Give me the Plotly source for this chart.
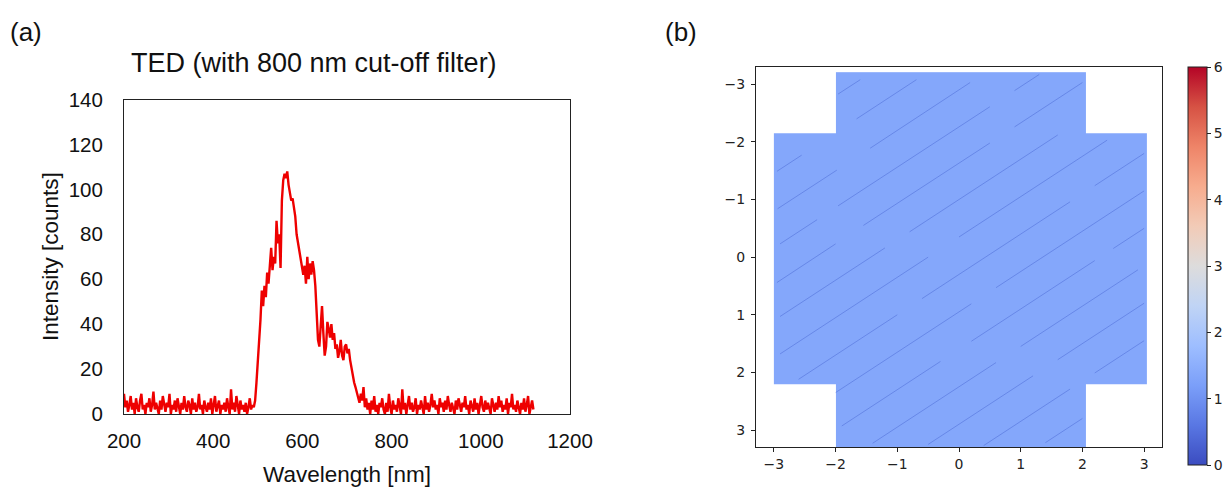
import plotly.graph_objects as go

W, H = 1229, 487

# ---------------- Panel (a): spectrum data ----------------
wl_start, wl_step = 200, 3
intensity = [
    # 200-488 nm baseline
    9,3,6,1,4,8,2,5,0,7,3,1,6,9,2,4,0,5,3,7,1,4,10,2,5,3,0,6,2,8,
    4,1,5,3,9,0,4,2,6,1,7,3,0,5,2,8,3,1,6,4,
    0,7,2,5,1,3,9,2,4,0,6,3,1,5,2,7,0,4,8,1,
    3,6,0,4,2,5,1,7,3,0,11,2,5,1,8,3,0,6,2,4,
    1,5,0,3,7,2,4,
    # 491-749 nm emission band
    3,6,14,22,30,42,55,48,57,52,63,58,66,74,64,70,67,86,76,80,
    65,95,104,107,105,108,102,99,95,96,91,88,80,76,72,68,65,62,66,58,
    70,60,67,62,68,64,57,46,33,30,38,48,36,26,30,41,38,34,40,33,
    36,29,31,25,28,33,26,24,30,31,27,29,24,20,17,14,12,10,8,5,
    9,6,12,3,7,2,5,
    # 752-1118 nm baseline
    0,6,2,8,1,4,0,5,3,7,
    2,0,5,1,9,3,0,6,2,4,
    1,7,3,0,11,2,5,0,4,8,
    2,5,1,3,7,0,4,2,6,3,
    0,8,2,5,1,4,9,3,6,2,
    4,0,7,3,5,1,6,2,8,4,
    1,5,3,0,6,2,7,4,1,5,
    3,8,2,4,0,6,3,1,7,2,
    5,0,4,8,3,1,6,2,5,3,
    0,7,4,1,5,2,8,3,6,1,
    4,2,7,0,5,3,9,2,4,1,
    6,3,0,5,2,7,1,4,8,0,
    3,6,2,
]
wavelength = [wl_start + wl_step * i for i in range(len(intensity))]
x_ticks_a = [200, 400, 600, 800, 1000, 1200]
y_ticks_a = [0, 20, 40, 60, 80, 100, 120, 140]

# ---------------- Panel (b): map data ----------------
cross_x_edges = [-3.0, -2.0, 2.05, 3.05]
cross_y_edges = [-3.21, -2.16, 2.21, 3.30]
cross_z = [
    [None, 1.35, None],
    [1.35, 1.35, 1.35],
    [None, 1.35, None],
]
# faint streak segments (x0, y0, x1, y1)
seg_x0 = [-1.96, -2.95, -1.66, -2.94, -1.44, -2.90, -1.96, 0.90, -2.95, -1.55, 0.90,
          -2.90, -0.80, -2.90, 0.00, -2.60, -0.60, 2.20, -2.00, 0.60, -1.90, 0.20, 2.50,
          -1.40, 1.00, -0.50, 1.60, 0.40, 2.20, 1.40]
seg_y0 = [-2.83, -1.49, -2.40, -0.84, -1.89, -0.23, -0.89, -2.89, 0.44, -0.55, -2.26,
          1.03, -0.44, 1.68, -0.35, 2.12, 0.72, -1.24, 2.35, 0.53, 2.93, 1.46, -0.15,
          3.23, 1.55, 3.25, 1.78, 3.27, 2.01, 3.22]
seg_x1 = [-1.60, -2.55, -0.69, -1.98, 0.18, -2.30, 0.50, 1.30, -2.00, 0.50, 2.00,
          -1.20, 1.60, -0.50, 2.40, -1.00, 1.80, 3.00, 0.20, 3.00, -0.30, 2.20, 3.00,
          0.60, 2.90, 1.20, 3.00, 1.80, 3.00, 2.00]
seg_y1 = [-3.08, -1.77, -3.08, -1.51, -3.03, -0.65, -2.61, -3.17, -0.23, -1.98, -3.03,
          -0.16, -2.12, 0.00, -2.03, 1.00, -0.96, -1.80, 0.81, -1.15, 1.81, 0.06, -0.50,
          1.83, 0.22, 2.06, 0.80, 2.29, 1.45, 2.80]
ticks_b = [-3, -2, -1, 0, 1, 2, 3]
cbar_ticks = [0, 1, 2, 3, 4, 5, 6]

coolwarm = [[0.0, '#3b4cc0'], [0.1, '#5977e3'], [0.2, '#7b9ff9'], [0.3, '#9ebeff'],
            [0.4, '#c0d4f5'], [0.5, '#dddcdc'], [0.6, '#f2cbb7'], [0.7, '#f7ac8e'],
            [0.8, '#ee8468'], [0.9, '#d65244'], [1.0, '#b40426']]


def px(x):
    return x / W


def py(y):
    return 1 - y / H


ARIAL = "Arial, Liberation Sans, sans-serif"
DEJAVU = "DejaVu Sans, sans-serif"

fig = go.Figure()

fig.add_trace(go.Scatter(
    x=wavelength, y=intensity, mode='lines',
    line=dict(color='rgb(238,0,0)', width=2.4),
    xaxis='x', yaxis='y', showlegend=False, hoverinfo='skip'))

fig.add_trace(go.Heatmap(
    x=cross_x_edges, y=cross_y_edges, z=cross_z,
    colorscale=coolwarm, zmin=0, zmax=6, xaxis='x2', yaxis='y2',
    hoverinfo='skip',
    colorbar=dict(
        thickness=19, thicknessmode='pixels',
        len=398 / H, lenmode='fraction',
        x=px(1188), xanchor='left', y=py(465), yanchor='bottom',
        xpad=0, ypad=0, outlinewidth=1, outlinecolor='#222',
        ticks='outside', ticklen=4, tickcolor='#222',
        tickvals=cbar_ticks, tickfont=dict(family=DEJAVU, size=14, color='#222'),
    )))

sx, sy = [], []
for a, b, c, d in zip(seg_x0, seg_y0, seg_x1, seg_y1):
    sx += [a, c, None]
    sy += [b, d, None]
fig.add_trace(go.Scatter(
    x=sx, y=sy, mode='lines', line=dict(color='rgba(55,85,200,0.38)', width=1),
    xaxis='x2', yaxis='y2', showlegend=False, hoverinfo='skip'))

fig.update_layout(
    width=W, height=H, margin=dict(l=0, r=0, t=0, b=0, autoexpand=False),
    paper_bgcolor='white', plot_bgcolor='white', showlegend=False,
    xaxis=dict(domain=[px(124), px(570)], range=[200, 1200], tickvals=x_ticks_a,
               showline=True, mirror=True, linecolor='#222', linewidth=1,
               ticks='outside', ticklen=8, tickcolor='rgba(0,0,0,0)',
               tickfont=dict(family=ARIAL, size=20.5, color='#111'),
               showgrid=False, zeroline=False, automargin=False),
    yaxis=dict(domain=[py(414), py(99.5)], range=[0, 140], tickvals=y_ticks_a,
               showline=True, mirror=True, linecolor='#222', linewidth=1,
               ticks='outside', ticklen=16, tickcolor='rgba(0,0,0,0)',
               tickfont=dict(family=ARIAL, size=20.5, color='#111'),
               showgrid=False, zeroline=False, automargin=False),
    xaxis2=dict(domain=[px(756), px(1162)], range=[-3.29, 3.29], tickvals=ticks_b,
                anchor='y2', showline=True, mirror=True, linecolor='#222', linewidth=1,
                ticks='outside', ticklen=4, tickcolor='#222',
                tickfont=dict(family=DEJAVU, size=14, color='#222'),
                showgrid=False, zeroline=False, automargin=False),
    yaxis2=dict(domain=[py(447), py(67)], range=[3.295, -3.30], tickvals=ticks_b,
                anchor='x2', showline=True, mirror=True, linecolor='#222', linewidth=1,
                ticks='outside', ticklen=4, tickcolor='#222', ticklabelstandoff=3,
                tickfont=dict(family=DEJAVU, size=14, color='#222'),
                showgrid=False, zeroline=False, automargin=False),
    annotations=[
        dict(text='(a)', x=px(26), y=py(32), xref='paper', yref='paper',
             xanchor='center', yanchor='middle',
             showarrow=False, font=dict(family=ARIAL, size=26, color='#111')),
        dict(text='(b)', x=px(681), y=py(32), xref='paper', yref='paper',
             xanchor='center', yanchor='middle',
             showarrow=False, font=dict(family=ARIAL, size=26, color='#111')),
        dict(text='TED (with 800 nm cut-off filter)', x=px(314), y=py(63),
             xref='paper', yref='paper', showarrow=False,
             xanchor='center', yanchor='middle',
             font=dict(family=ARIAL, size=27, color='#111')),
        dict(text='Wavelength [nm]', x=px(347), y=py(474), xref='paper', yref='paper',
             xanchor='center', yanchor='middle',
             showarrow=False, font=dict(family=ARIAL, size=22.5, color='#111')),
        dict(text='Intensity [counts]', x=px(50), y=py(257), xref='paper', yref='paper',
             xanchor='center', yanchor='middle',
             showarrow=False, textangle=-90,
             font=dict(family=ARIAL, size=22.5, color='#111')),
    ],
)

fig.write_html("out.html")
